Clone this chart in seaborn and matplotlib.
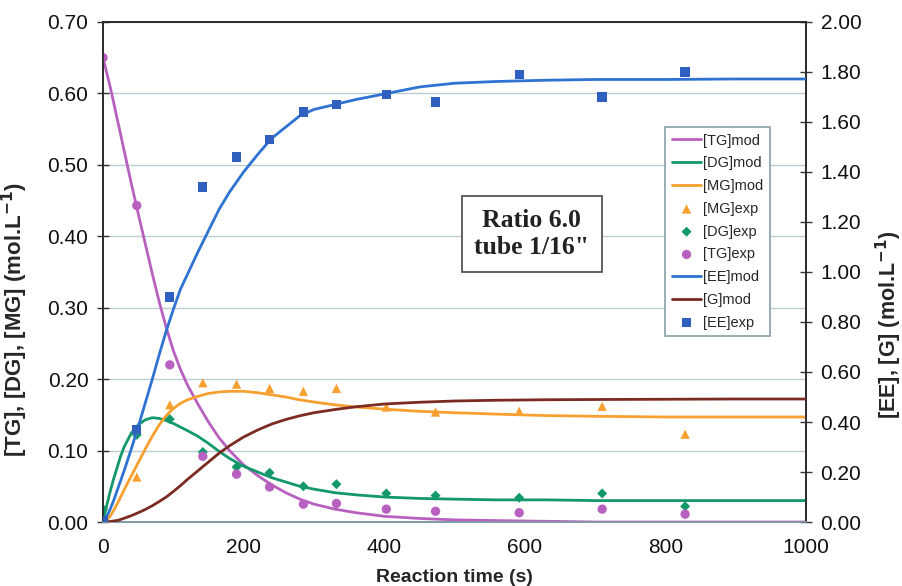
import numpy as np
import pandas as pd
import matplotlib
matplotlib.use('Agg')
import matplotlib.pyplot as plt
import seaborn as sns

# model curves
t_mod = [0, 5, 10, 15, 20, 25, 30, 40, 50, 60, 70, 80, 90, 100, 110, 120, 135, 150, 165,
         180, 200, 220, 240, 260, 280, 300, 330, 360, 400, 450, 500, 560, 630, 700, 800,
         900, 1000]
tg_mod = [0.65, 0.63, 0.61, 0.588, 0.565, 0.543, 0.52, 0.475, 0.432, 0.39, 0.348, 0.308,
          0.272, 0.24, 0.214, 0.192, 0.165, 0.14, 0.118, 0.1, 0.08, 0.065, 0.052, 0.041,
          0.032, 0.025, 0.018, 0.013, 0.008, 0.005, 0.003, 0.002, 0.001, 0.0, 0.0, 0.0, 0.0]
dg_mod = [0.0, 0.022, 0.042, 0.06, 0.076, 0.092, 0.105, 0.124, 0.136, 0.143, 0.146, 0.145,
          0.142, 0.138, 0.133, 0.128, 0.12, 0.11, 0.099, 0.089, 0.078, 0.07, 0.062, 0.056,
          0.05, 0.046, 0.041, 0.038, 0.035, 0.033, 0.032, 0.031, 0.031, 0.03, 0.03, 0.03, 0.03]
mg_mod = [0.0, 0.002, 0.008, 0.016, 0.025, 0.035, 0.045, 0.064, 0.083, 0.102, 0.12, 0.136,
          0.149, 0.159, 0.166, 0.171, 0.176, 0.18, 0.182, 0.183, 0.183, 0.181, 0.178, 0.175,
          0.171, 0.168, 0.164, 0.161, 0.158, 0.155, 0.153, 0.151, 0.149, 0.148, 0.147, 0.147,
          0.147]
ee_mod = [0.0, 0.02, 0.05, 0.085, 0.125, 0.165, 0.205, 0.29, 0.38, 0.475, 0.57, 0.67, 0.765,
          0.85, 0.93, 0.99, 1.08, 1.165, 1.25, 1.32, 1.4, 1.47, 1.535, 1.58, 1.625, 1.65,
          1.67, 1.69, 1.712, 1.74, 1.755, 1.762, 1.767, 1.77, 1.77, 1.772, 1.772]
g_mod = [0.0, 0.0, 0.002, 0.004, 0.006, 0.01, 0.015, 0.025, 0.037, 0.05, 0.065, 0.082, 0.1,
         0.122, 0.145, 0.17, 0.205, 0.24, 0.275, 0.305, 0.34, 0.368, 0.392, 0.41, 0.425,
         0.437, 0.45, 0.461, 0.472, 0.479, 0.484, 0.487, 0.489, 0.49, 0.491, 0.492, 0.492]

# experimental points
t_exp = [0, 48, 95, 142, 190, 237, 285, 332, 403, 473, 592, 710, 828]
tg_exp = [0.65, 0.443, 0.22, 0.092, 0.067, 0.049, 0.025, 0.026, 0.018, 0.015, 0.013, 0.018, 0.011]
dg_exp = [0.018, 0.122, 0.144, 0.098, 0.077, 0.069, 0.05, 0.053, 0.04, 0.037, 0.034, 0.04, 0.022]
mg_exp = [0.0, 0.063, 0.164, 0.195, 0.193, 0.187, 0.183, 0.187, 0.161, 0.154, 0.155, 0.162, 0.123]
ee_exp = [0.005, 0.37, 0.90, 1.34, 1.46, 1.53, 1.64, 1.67, 1.71, 1.68, 1.79, 1.70, 1.80]

c_tg = '#b860bf'
c_dg = '#12986a'
c_mg = '#f7a030'
c_ee = '#2e72d2'
c_g = '#7b2b22'
c_eex = '#2f5fbf'

sns.set_style('white')
plt.rcParams['font.family'] = ['Liberation Sans', 'DejaVu Sans']

fig = plt.figure(figsize=(9.02, 5.86), dpi=100)
ax = fig.add_axes([0.1142, 0.1092, 0.7794, 0.8533])
ax2 = ax.twinx()

# left axis: TG, DG, MG
sns.lineplot(x=t_mod, y=tg_mod, ax=ax, color=c_tg, lw=2, label='[TG]mod', zorder=3)
sns.lineplot(x=t_mod, y=dg_mod, ax=ax, color=c_dg, lw=2, label='[DG]mod', zorder=3)
sns.lineplot(x=t_mod, y=mg_mod, ax=ax, color=c_mg, lw=2, label='[MG]mod', zorder=3)
sns.scatterplot(x=t_exp, y=mg_exp, ax=ax, color=c_mg, marker='^', s=45, edgecolor='none',
                label='[MG]exp', zorder=4)
sns.scatterplot(x=t_exp, y=dg_exp, ax=ax, color=c_dg, marker='D', s=26, edgecolor='none',
                label='[DG]exp', zorder=4)
sns.scatterplot(x=t_exp, y=tg_exp, ax=ax, color=c_tg, marker='o', s=45, edgecolor='none',
                label='[TG]exp', zorder=4)

# right axis: EE, G
sns.lineplot(x=t_mod, y=ee_mod, ax=ax2, color=c_ee, lw=2, label='[EE]mod', zorder=3)
sns.lineplot(x=t_mod, y=g_mod, ax=ax2, color=c_g, lw=2, label='[G]mod', zorder=3)
sns.scatterplot(x=t_exp, y=ee_exp, ax=ax2, color=c_eex, marker='s', s=45, edgecolor='none',
                label='[EE]exp', zorder=4)

ax.set_xlim(0, 1000)
ax.set_ylim(0, 0.70)
ax2.set_ylim(0, 2.0)
ax.set_xticks(np.arange(0, 1001, 200))
ax.set_yticks(np.arange(0, 0.701, 0.1))
ax2.set_yticks(np.arange(0, 2.001, 0.2))
ax.set_yticklabels([f'{v:.2f}' for v in np.arange(0, 0.701, 0.1)])
ax2.set_yticklabels([f'{v:.2f}' for v in np.arange(0, 2.001, 0.2)])

ax.yaxis.grid(True, color='#b9cdd3', lw=1)
ax.set_axisbelow(True)

for a in (ax, ax2):
    a.tick_params(axis='both', direction='inout', length=9, width=1, color='#333333',
                  labelsize=15, labelcolor='#111111', pad=6)
    for s in a.spines.values():
        s.set_color('#2a2a2a')
        s.set_linewidth(1.2)
ax.spines['bottom'].set_color('#7f9aa3')
ax2.spines['bottom'].set_color('#7f9aa3')
ax.tick_params(axis='x', color='#7f9aa3', pad=7)

ax.set_xlabel('Reaction time (s)', fontsize=14, fontweight='bold', labelpad=9)
ax.set_ylabel('[TG], [DG], [MG] (mol.L$^{\\mathbf{-1}}$)', fontsize=16, fontweight='bold')
ax2.set_ylabel('[EE], [G] (mol.L$^{\\mathbf{-1}}$)', fontsize=15.5, fontweight='bold', rotation=90)
ax.yaxis.set_label_coords(-0.104, 0.405)
ax2.yaxis.set_label_coords(1.096, 0.395)

# legend in original order
h1, l1 = ax.get_legend_handles_labels()
h2, l2 = ax2.get_legend_handles_labels()
ax.get_legend().remove()
ax2.get_legend().remove()
hd = dict(zip(l1 + l2, h1 + h2))
order = ['[TG]mod', '[DG]mod', '[MG]mod', '[MG]exp', '[DG]exp', '[TG]exp',
         '[EE]mod', '[G]mod', '[EE]exp']
leg = ax2.legend([hd[k] for k in order], order, loc='upper left', bbox_to_anchor=(0.80, 0.79),
                 borderaxespad=0, fontsize=10.5, labelspacing=0.6, handlelength=2.0,
                 handletextpad=0.15, borderpad=0.45, fancybox=False, framealpha=1)
leg.get_frame().set_edgecolor('#8aa0a8')
leg.get_frame().set_linewidth(1.2)

ax2.text(610, 0.403 * 2.0 / 0.7, 'Ratio 6.0\ntube 1/16"', ha='center', va='center',
         fontsize=18.5, fontweight='bold', family='Liberation Serif', color='#222222',
         linespacing=1.2,
         bbox=dict(boxstyle='square,pad=0.5', facecolor='white', edgecolor='#555555', lw=1.3))

fig.savefig('out.png', dpi=100)
